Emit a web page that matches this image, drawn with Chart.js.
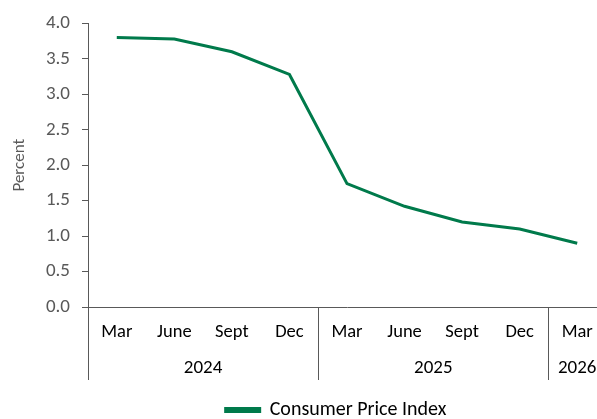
<!DOCTYPE html>
<html>
<head>
<meta charset="utf-8">
<script src="https://cdn.jsdelivr.net/npm/chart.js@4.4.1/dist/chart.umd.min.js"></script>
<style>
  html,body{margin:0;padding:0;background:#fff;overflow:hidden;}
  #wrap{width:612px;height:419px;}
</style>
</head>
<body>
<div id="wrap"><canvas id="chartCpi" width="612" height="419"></canvas></div>
<script>
// ================= DATA =================
const months = ["Mar","June","Sept","Dec","Mar","June","Sept","Dec","Mar"];
const cpi    = [3.80, 3.78, 3.60, 3.28, 1.74, 1.42, 1.20, 1.10, 0.90];
const years  = ["2024","2025","2026"];
const yearSpan = [4, 4, 1];   // quarters per year group

const GREEN = "#007A4B";
const AXIS  = "#595959";
const FONT  = "Calibri, Carlito, 'Liberation Sans', sans-serif";

// ================= YEAR GROUPS + SEPARATORS =================
const yearAxis = {
  id:"yearAxis",
  afterLayout(chart){
    // legend sits under the plot, a bit lower than default
    chart.legend.left += 33;
    chart.legend.right += 33;
    chart.legend.top += 11;
    chart.legend.bottom += 11;
  },
  afterDraw(chart){
    const x = chart.scales.x, c = chart.ctx;
    const step = x.getPixelForValue(1) - x.getPixelForValue(0);
    c.save();
    c.strokeStyle = AXIS;
    c.lineWidth = 1;
    c.fillStyle = "#000";
    c.font = "19px " + FONT;
    c.textAlign = "center";
    c.textBaseline = "middle";
    let start = 0;
    years.forEach((y,i)=>{
      const end = start + yearSpan[i];
      const left  = x.getPixelForValue(start) - step/2;
      const right = x.getPixelForValue(end-1) + step/2;
      c.beginPath();
      c.moveTo(Math.round(left)+0.5, x.top);
      c.lineTo(Math.round(left)+0.5, x.bottom - 3);
      c.stroke();
      c.fillText(y, (left+right)/2, x.bottom - 15);
      start = end;
    });
    c.restore();
  }
};

const ctx = document.getElementById("chartCpi").getContext("2d");
new Chart(ctx,{
  type:"line",
  data:{
    labels:months,
    datasets:[{
      label:"Consumer Price Index",
      data:cpi,
      borderColor:GREEN,
      backgroundColor:GREEN,
      borderWidth:3,
      pointRadius:0,
      tension:0
    }]
  },
  options:{
    responsive:false,
    animation:false,
    layout:{ padding:{ top:21, right:6, left:0, bottom:0 } },
    plugins:{
      tooltip:{ enabled:false },
      legend:{
        position:"bottom",
        labels:{
          color:"#000",
          font:{ family:FONT, size:20 },
          boxWidth:34,
          boxHeight:3,
          padding:6
        }
      }
    },
    scales:{
      x:{
        offset:true,
        grid:{ display:false },
        border:{ display:true, color:AXIS, width:1 },
        ticks:{ color:"#000", font:{ family:FONT, size:18.5 }, padding:6, maxRotation:0, autoSkip:false },
        afterFit(s){ s.height = 76; }
      },
      y:{
        min:0, max:4,
        grid:{ drawOnChartArea:false, drawTicks:true, tickLength:6, color:AXIS },
        border:{ display:true, color:AXIS, width:1 },
        ticks:{ stepSize:0.5, color:AXIS, font:{ family:FONT, size:19 }, padding:12,
                callback:v=>v.toFixed(1) },
        title:{ display:true, text:"Percent", color:AXIS, font:{ family:FONT, size:17 }, padding:{top:10,bottom:0} },
        afterFit(s){ s.width = 88; }
      }
    }
  },
  plugins:[yearAxis]
});
</script>
</body>
</html>
